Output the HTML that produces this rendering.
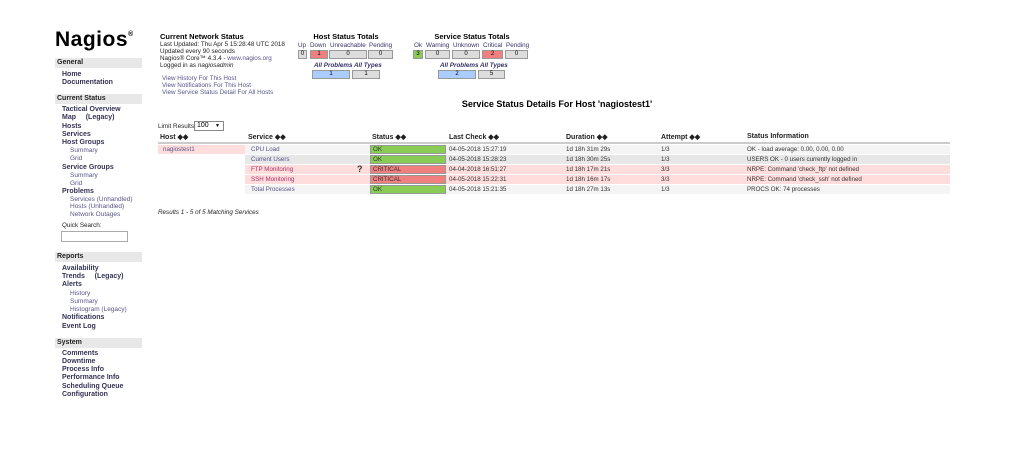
<!DOCTYPE html>
<html><head><meta charset="utf-8"><style>
body{margin:0;width:1024px;height:460px;background:#fff;position:relative;overflow:hidden;font-family:"Liberation Sans",sans-serif;font-size:6.5px;color:#000}
div,span{position:absolute;white-space:nowrap}
.logo{left:55px;top:28px;font-size:21px;font-weight:bold;letter-spacing:0.5px}
.hdr{left:55px;width:87px;height:10px;background:#e8e8e8;font-weight:bold;font-size:7px;line-height:10px;padding-left:2px;box-sizing:border-box;color:#222}
.nav{left:62px;font-weight:bold;font-size:7px;color:#335}
.sub{left:70px;font-size:6.5px;color:#558}
.t{font-size:6.3px;color:#222}
.lnk{color:#558}
.bx{height:9px;background:#ddd;border:1px solid #999;box-sizing:border-box;text-align:center;line-height:7px;font-size:6px}
.lbl{font-size:6.3px;color:#336;text-align:center}
.th{font-weight:bold;font-size:7px;color:#222;top:133px}
.row{left:245px;width:705px;height:9px}
.cell{font-size:6.2px;color:#333;line-height:9px}
</style></head><body>
<div class="logo">Nagios<span style="font-size:7px;position:relative;top:-10px">®</span></div>

<div class="hdr" style="top:58px">General</div>
<div class="nav" style="top:71px">Home</div>
<div class="nav" style="top:79px">Documentation</div>
<div class="hdr" style="top:94px">Current Status</div>
<div class="nav" style="top:106px">Tactical Overview</div>
<div class="nav" style="top:114px">Map &nbsp;&nbsp;&nbsp;&nbsp;(Legacy)</div>
<div class="nav" style="top:123px">Hosts</div>
<div class="nav" style="top:131px">Services</div>
<div class="nav" style="top:139px">Host Groups</div>
<div class="sub" style="top:147px">Summary</div>
<div class="sub" style="top:155px">Grid</div>
<div class="nav" style="top:164px">Service Groups</div>
<div class="sub" style="top:172px">Summary</div>
<div class="sub" style="top:180px">Grid</div>
<div class="nav" style="top:188px">Problems</div>
<div class="sub" style="top:196px">Services (Unhandled)</div>
<div class="sub" style="top:203px">Hosts (Unhandled)</div>
<div class="sub" style="top:211px">Network Outages</div>
<div class="t" style="left:62px;top:222px">Quick Search:</div>
<div style="left:61px;top:231px;width:67px;height:11px;border:1px solid #aaa;box-sizing:border-box"></div>

<div class="hdr" style="top:252px">Reports</div>
<div class="nav" style="top:265px">Availability</div>
<div class="nav" style="top:273px">Trends &nbsp;&nbsp;&nbsp;&nbsp;(Legacy)</div>
<div class="nav" style="top:281px">Alerts</div>
<div class="sub" style="top:290px">History</div>
<div class="sub" style="top:298px">Summary</div>
<div class="sub" style="top:306px">Histogram (Legacy)</div>
<div class="nav" style="top:314px">Notifications</div>
<div class="nav" style="top:323px">Event Log</div>
<div class="hdr" style="top:338px">System</div>
<div class="nav" style="top:350px">Comments</div>
<div class="nav" style="top:358px">Downtime</div>
<div class="nav" style="top:366px">Process Info</div>
<div class="nav" style="top:374px">Performance Info</div>
<div class="nav" style="top:383px">Scheduling Queue</div>
<div class="nav" style="top:391px">Configuration</div>

<div style="left:160px;top:32px;font-weight:bold;font-size:7.5px">Current Network Status</div>
<div class="t" style="left:160px;top:41px">Last Updated: Thu Apr 5 15:28:48 UTC 2018</div>
<div class="t" style="left:160px;top:48px">Updated every 90 seconds</div>
<div class="t" style="left:160px;top:55px">Nagios® Core™ 4.3.4 - <span class="lnk" style="position:static">www.nagios.org</span></div>
<div class="t" style="left:160px;top:62px">Logged in as <i>nagiosadmin</i></div>
<div class="t lnk" style="left:162px;top:75px">View History For This Host</div>
<div class="t lnk" style="left:162px;top:82px">View Notifications For This Host</div>
<div class="t lnk" style="left:162px;top:89px">View Service Status Detail For All Hosts</div>

<div style="left:300px;width:92px;top:32px;text-align:center;font-weight:bold;font-size:7.5px">Host Status Totals</div>
<div class="lbl" style="left:298px;top:42px">Up</div>
<div class="lbl" style="left:310px;top:42px">Down</div>
<div class="lbl" style="left:330px;top:42px">Unreachable</div>
<div class="lbl" style="left:369px;top:42px">Pending</div>
<div class="bx" style="left:298px;top:50px;width:9px">0</div>
<div class="bx" style="left:310px;top:50px;width:18px;background:#f08080">1</div>
<div class="bx" style="left:329px;top:50px;width:38px">0</div>
<div class="bx" style="left:368px;top:50px;width:25px">0</div>
<div class="lbl" style="left:314px;top:62px;font-style:italic;font-weight:bold">All Problems</div>
<div class="lbl" style="left:354px;top:62px;font-style:italic;font-weight:bold">All Types</div>
<div class="bx" style="left:312px;top:70px;width:38px;background:#aaccff">1</div>
<div class="bx" style="left:352px;top:70px;width:28px">1</div>

<div style="left:422px;width:100px;top:32px;text-align:center;font-weight:bold;font-size:7.5px">Service Status Totals</div>
<div class="lbl" style="left:414px;top:42px">Ok</div>
<div class="lbl" style="left:426px;top:42px">Warning</div>
<div class="lbl" style="left:453px;top:42px">Unknown</div>
<div class="lbl" style="left:483px;top:42px">Critical</div>
<div class="lbl" style="left:506px;top:42px">Pending</div>
<div class="bx" style="left:413px;top:50px;width:10px;background:#88cc55">3</div>
<div class="bx" style="left:425px;top:50px;width:25px">0</div>
<div class="bx" style="left:452px;top:50px;width:28px">0</div>
<div class="bx" style="left:482px;top:50px;width:21px;background:#f08080">2</div>
<div class="bx" style="left:505px;top:50px;width:23px">0</div>
<div class="lbl" style="left:440px;top:62px;font-style:italic;font-weight:bold">All Problems</div>
<div class="lbl" style="left:480px;top:62px;font-style:italic;font-weight:bold">All Types</div>
<div class="bx" style="left:438px;top:70px;width:38px;background:#aaccff">2</div>
<div class="bx" style="left:478px;top:70px;width:27px">5</div>

<div style="left:400px;width:314px;top:99px;text-align:center;font-weight:bold;font-size:9px">Service Status Details For Host 'nagiostest1'</div>
<div class="t" style="left:158px;top:123px">Limit Results:</div>
<div style="left:194px;top:121px;width:30px;height:10px;border:1px solid #888;box-sizing:border-box;font-size:7px;line-height:8px;padding-left:2px">100 <span style="right:3px;top:0;font-size:5px">▼</span></div>

<div class="th" style="left:160px">Host ◆◆</div>
<div class="th" style="left:248px">Service ◆◆</div>
<div class="th" style="left:372px">Status ◆◆</div>
<div class="th" style="left:449px">Last Check ◆◆</div>
<div class="th" style="left:566px">Duration ◆◆</div>
<div class="th" style="left:661px">Attempt ◆◆</div>
<div class="th" style="left:747px">Status Information</div>
<div style="left:158px;top:142px;width:87px;height:2px;background:#ccc"></div>
<div style="left:245px;top:142px;width:705px;height:2px;background:#ccc"></div>
<div style="left:158px;top:145px;width:87px;height:9px;background:#fdd"></div>
<div class="cell" style="left:163px;top:145px;color:#558">nagiostest1</div>

<div id="rows"></div>
<div style="left:158px;top:209px;font-style:italic;font-size:6.3px;color:#222">Results 1 - 5 of 5 Matching Services</div>

<script>
const services=["CPU Load","Current Users","FTP Monitoring","SSH Monitoring","Total Processes"];
const statuses=["OK","OK","CRITICAL","CRITICAL","OK"];
const lastChecks=["04-05-2018 15:27:19","04-05-2018 15:28:23","04-04-2018 16:51:27","04-05-2018 15:22:31","04-05-2018 15:21:35"];
const durations=["1d 18h 31m 29s","1d 18h 30m 25s","1d 18h 17m 21s","1d 18h 16m 17s","1d 18h 27m 13s"];
const attempts=["1/3","1/3","3/3","3/3","1/3"];
const infos=["OK - load average: 0.00, 0.00, 0.00","USERS OK - 0 users currently logged in","NRPE: Command 'check_ftp' not defined","NRPE: Command 'check_ssh' not defined","PROCS OK: 74 processes"];
const rowH=9.9, top0=145;
const wrap=document.getElementById('rows');
services.forEach((s,i)=>{
  const y=top0+i*rowH;
  const crit=statuses[i]==="CRITICAL";
  const bg=crit?"#fdd":(i%2?"#e7e7e7":"#f4f4f4");
  const r=document.createElement('div');
  r.className='row';r.style.top=y+'px';r.style.height=(rowH-0.9)+'px';r.style.background=bg;
  
  
  const add=(x,txt,nm,extra)=>{const c=document.createElement('div');c.className='cell';c.style.left=x+'px';c.style.top='0';c.textContent=txt;if(extra)Object.assign(c.style,extra);
    
    
    r.appendChild(c);return c;};
  add(6,s,'service-name',{color:crit?'#a36':'#558'});
  const st=document.createElement('div');
  st.style.left='125px';st.style.top='0';st.style.width='76px';st.style.height='100%';
  st.style.background=crit?'#f08080':'#88cc55';st.style.border='1px solid #999';st.style.boxSizing='border-box';
  st.className='cell';st.style.lineHeight='7px';st.style.paddingLeft='2px';st.textContent=statuses[i];
  
  
  r.appendChild(st);
  add(204,lastChecks[i],'last-check-cell');
  add(321,durations[i],'duration-cell');
  add(416,attempts[i],'attempt-cell');
  add(502,infos[i],'status-info-cell');
  if(s==="FTP Monitoring"){const q=add(112,'?','unknown-icon',{fontWeight:'bold',fontSize:'9px'});}
  wrap.appendChild(r);
});
</script>
</body></html>
